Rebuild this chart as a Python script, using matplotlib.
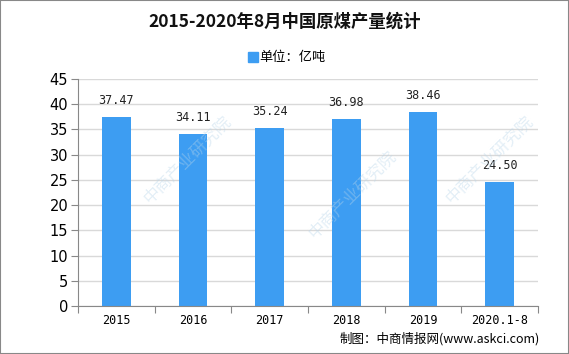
import matplotlib
matplotlib.use("Agg")
import matplotlib.pyplot as plt
from matplotlib.patches import Rectangle

plt.rcParams["font.family"] = ["Noto Sans CJK SC", "DejaVu Sans"]

categories = ["2015", "2016", "2017", "2018", "2019", "2020.1-8"]
values = [37.47, 34.11, 35.24, 36.98, 38.46, 24.50]
value_labels = ["37.47", "34.11", "35.24", "36.98", "38.46", "24.50"]
yticks = [0, 5, 10, 15, 20, 25, 30, 35, 40, 45]

title = "2015-2020年8月中国原煤产量统计"
legend_label = "单位：亿吨"
source = "制图：中商情报网(www.askci.com)"
bar_color = "#3d9df2"

W, H = 569, 354
fig = plt.figure(figsize=(W / 100, H / 100), dpi=100)
ax = fig.add_axes([78 / W, 1 - 306 / H, (538 - 78) / W, (306 - 79) / H])

x = list(range(len(categories)))
ax.bar(x, values, width=0.37, color=bar_color, zorder=2)
for xi, v, lab in zip(x, values, value_labels):
    ax.text(xi, v + 2.0, lab, ha="center", va="bottom", fontsize=8.5,
            family=["DejaVu Sans Mono"], color="#222222")

ax.set_xlim(-0.5, len(categories) - 0.5)
ax.set_ylim(0, 45)
ax.set_yticks(yticks)
ax.set_yticklabels([str(t) for t in yticks], fontsize=10.5, family=["DejaVu Sans"])
ax.yaxis.grid(True, color="#d9d9d9", linewidth=1, zorder=0)
ax.set_axisbelow(True)

# category ticks sit between the bars
ax.set_xticks([i + 0.5 for i in x[:-1]] + [-0.5, len(categories) - 0.5])
ax.set_xticklabels([])
ax.tick_params(axis="x", length=5, color="#888888", direction="out")
ax.tick_params(axis="y", length=5, color="#888888", direction="out", pad=2)
for xi, c in zip(x, categories):
    ax.text(xi, -1.6, c, ha="center", va="top", fontsize=8.5,
            family=["DejaVu Sans Mono"])

for s in ["top", "right"]:
    ax.spines[s].set_visible(False)
ax.spines["left"].set_color("#888888")
ax.spines["bottom"].set_color("#888888")

fig.text(0.5, 1 - 22 / H, title, ha="center", va="center", fontsize=12.5,
         fontweight="bold", color="#111111")
fig.patches.append(Rectangle((248 / W, 1 - 62 / H), 10 / W, 10 / H,
                             transform=fig.transFigure, color=bar_color))
fig.text(259 / W, 1 - 57 / H, legend_label, ha="left", va="center", fontsize=9.5)
fig.text(540 / W, 1 - 339 / H, source, ha="right", va="center", fontsize=9)

# faint watermarks
for wx, wy in [(0.33, 0.55), (0.62, 0.45), (0.86, 0.55)]:
    fig.text(wx, wy, "中商产业研究院", rotation=45, fontsize=12, color="#b9d6ea",
             alpha=0.4, ha="center", va="center", zorder=0)

fig.patches.append(Rectangle((0, 0), 1, 1, transform=fig.transFigure,
                             fill=False, edgecolor="#888888", linewidth=1.5))
fig.savefig("out.png", dpi=100)
